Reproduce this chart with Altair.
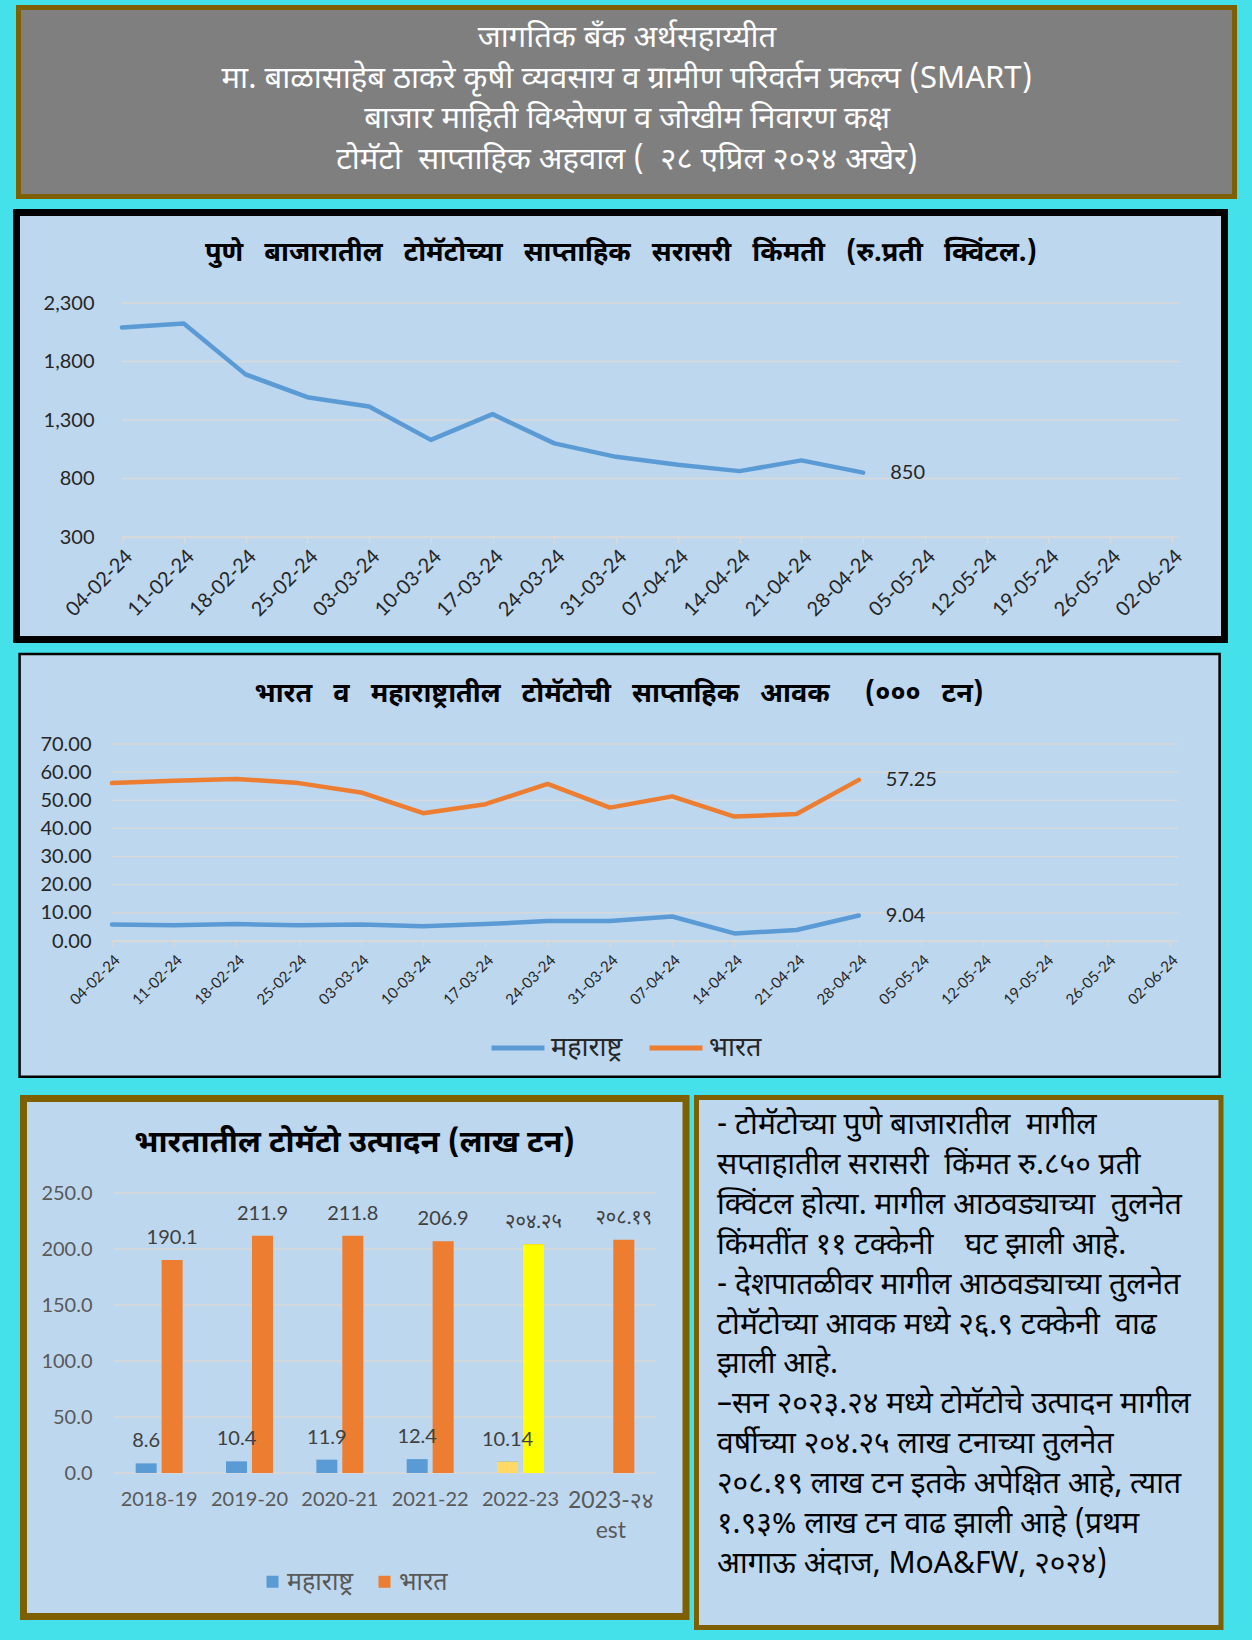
import altair as alt
import pandas as pd
import jinja2

# ---------------- colours / fonts ----------------
BG = "#45E1EB"
PANEL = "#BDD7EE"
BROWN = "#7F6000"
HEADFILL = "#7F7F7F"
BLUE = "#5B9BD5"
ORANGE = "#ED7D31"
GRID = "#D9D9D9"
DEV = "Noto Sans Devanagari, Noto Sans, sans-serif"
NUM = "Lato, Noto Sans Devanagari, sans-serif"
G = "\u00a0\u00a0 "   # wide word gap used in the chart titles

# ---------------- data ----------------
header_lines = [
    "जागतिक बँक अर्थसहाय्यीत",
    "मा. बाळासाहेब ठाकरे कृषी व्यवसाय व ग्रामीण परिवर्तन प्रकल्प (SMART)",
    "बाजार माहिती विश्लेषण व जोखीम निवारण कक्ष",
    "टोमॅटो \u00a0साप्ताहिक अहवाल ( \u00a0२८ एप्रिल २०२४ अखेर)",
]
title_price = G.join(["पुणे", "बाजारातील", "टोमॅटोच्या", "साप्ताहिक", "सरासरी", "किंमती",
                      "(रु.प्रती", "क्विंटल.)"])
title_arrivals = G.join(["भारत", "व", "महाराष्ट्रातील", "टोमॅटोची", "साप्ताहिक", "आवक",
                         "\u00a0\u00a0(०००", "टन)"])
title_prod = "भारतातील टोमॅटो उत्पादन (लाख टन)"

weeks = ["04-02-24", "11-02-24", "18-02-24", "25-02-24", "03-03-24", "10-03-24",
         "17-03-24", "24-03-24", "31-03-24", "07-04-24", "14-04-24", "21-04-24",
         "28-04-24", "05-05-24", "12-05-24", "19-05-24", "26-05-24", "02-06-24"]
pune_price = [2090, 2125, 1690, 1495, 1415, 1130, 1350, 1100, 985, 918, 863, 955, 850]
india_arrivals = [56.1, 56.9, 57.6, 56.1, 52.8, 45.4, 48.6, 55.8, 47.4, 51.4, 44.2, 45.1, 57.25]
maha_arrivals = [5.9, 5.6, 6.0, 5.6, 5.9, 5.2, 6.0, 7.1, 7.1, 8.7, 2.7, 3.9, 9.04]
series = ["महाराष्ट्र", "भारत"]

years = ["2018-19", "2019-20", "2020-21", "2021-22", "2022-23", "2023-२४ est"]
maha_prod = [8.6, 10.4, 11.9, 12.4, 10.14, None]
india_prod = [190.1, 211.9, 211.8, 206.9, 204.25, 208.19]
maha_prod_text = ["8.6", "10.4", "11.9", "12.4", "10.14", ""]
india_prod_text = ["190.1", "211.9", "211.8", "206.9", "२०४.२५", "२०८.१९"]

price_ticks = [300, 800, 1300, 1800, 2300]
arrival_ticks = [0, 10, 20, 30, 40, 50, 60, 70]
prod_ticks = [0, 50, 100, 150, 200, 250]

notes = [
    "- टोमॅटोच्या पुणे बाजारातील \u00a0मागील",
    "सप्ताहातील सरासरी \u00a0किंमत रु.८५० प्रती",
    "क्विंटल होत्या. मागील आठवड्याच्या \u00a0तुलनेत",
    "किंमतींत ११ टक्केनी \u00a0\u00a0\u00a0घट झाली आहे.",
    "- देशपातळीवर मागील आठवड्याच्या तुलनेत",
    "टोमॅटोच्या आवक मध्ये २६.९ टक्केनी \u00a0वाढ",
    "झाली आहे.",
    "–सन २०२३.२४ मध्ये टोमॅटोचे उत्पादन मागील",
    "वर्षीच्या २०४.२५ लाख टनाच्या तुलनेत",
    "२०८.१९ लाख टन इतके अपेक्षित आहे, त्यात",
    "१.९३% लाख टन वाढ झाली आहे (प्रथम",
    "आगाऊ अंदाज, MoA&FW, २०२४)",
]

one = pd.DataFrame({"k": [0]})


def box(x0, y0, x1, y1, fill, stroke=None, sw=0):
    kw = dict(fill=fill)
    if stroke:
        kw.update(stroke=stroke, strokeWidth=sw)
    return alt.Chart(one).mark_rect(**kw).encode(
        x=alt.value(x0), x2=alt.value(x1), y=alt.value(y0), y2=alt.value(y1))


def txt(x, y, text, size, weight="normal", color="#000000", align="center", font=DEV, lh=None):
    kw = dict(text=text, fontSize=size, fontWeight=weight, color=color,
              align=align, baseline="middle", font=font)
    if lh:
        kw["lineHeight"] = lh
    return alt.Chart(one).mark_text(**kw).encode(x=alt.value(x), y=alt.value(y))


# Every panel's view covers its whole band of the page (origin = band's top-left);
# the plotting region inside it is set through the scale ranges and axis offsets.

# ---------------- header (band y 0..204) ----------------
header = alt.layer(
    box(0, 0, 1252, 204, BG),
    box(18.5, 7.5, 1234.5, 196.5, HEADFILL, BROWN, 5),
    txt(627, 38, header_lines, 31, color="#FFFFFF", lh=40.7),
).properties(width=1252, height=204)

# ---------------- chart 1 : Pune price (band y 204..648) ----------------
BW1, BH1 = 1252, 444
PX1, PR1, PB1, PT1 = 122, 1180, 333, 99       # plot left/right/bottom/top inside band
df1 = pd.DataFrame({"week": weeks[:len(pune_price)], "price": pune_price})
xs1 = alt.Scale(domain=weeks, range=[PX1, 1172], padding=0)
ys1 = alt.Scale(domain=[300, 2300], range=[PB1, PT1], nice=False, zero=False)
ax1x = alt.Axis(title=None, labelAngle=-45, labelFont=NUM, labelFontSize=20, labelColor="#262626",
                domainColor=GRID, domainWidth=1.3, tickColor=GRID, tickWidth=1.3, tickSize=6,
                labelPadding=3, grid=False, zindex=1, offset=-(BH1 - PB1))
ax1y = alt.Axis(title=None, values=price_ticks, format=",.0f", labelFont=NUM, labelFontSize=20,
                labelColor="#262626", domain=False, ticks=False, labelPadding=28, grid=False,
                zindex=1, offset=-PX1)

grid1 = alt.Chart(pd.DataFrame({"v": price_ticks})).mark_rule(color=GRID, strokeWidth=1.3).encode(
    y=alt.Y("v:Q", scale=ys1, axis=ax1y), x=alt.value(PX1), x2=alt.value(PR1))
line1 = alt.Chart(df1).mark_line(color=BLUE, strokeWidth=4.5, strokeCap="round", strokeJoin="round").encode(
    x=alt.X("week:N", sort=weeks, scale=xs1, axis=ax1x),
    y=alt.Y("price:Q", scale=ys1, axis=ax1y))
lab1 = alt.Chart(df1.tail(1)).mark_text(align="left", baseline="middle", dx=27, fontSize=20,
                                        font=NUM, color="#262626").encode(
    x=alt.X("week:N", sort=weeks, scale=xs1, axis=ax1x),
    y=alt.Y("price:Q", scale=ys1, axis=ax1y),
    text=alt.Text("price:Q", format=",.0f"))

c1 = alt.layer(
    box(0, 0, BW1, BH1, BG),
    box(16.5, 8.5, 1224.5, 435.5, PANEL, "#000000", 7),
    grid1, line1, lab1,
    txt(621, 49, title_price, 27, weight="bold"),
).properties(width=BW1, height=BH1)

# ---------------- chart 2 : arrivals (band y 648..1086) ----------------
BW2, BH2 = 1252, 438
PX2, PR2, PB2, PT2 = 112, 1178, 293, 96
rows2 = []
for i, w in enumerate(weeks[:len(india_arrivals)]):
    rows2.append({"week": w, "series": series[0], "value": maha_arrivals[i]})
    rows2.append({"week": w, "series": series[1], "value": india_arrivals[i]})
df2 = pd.DataFrame(rows2)
xs2 = alt.Scale(domain=weeks, range=[PX2, 1170], padding=0)
ys2 = alt.Scale(domain=[0, 70], range=[PB2, PT2], nice=False)
cs2 = alt.Scale(domain=series, range=[BLUE, ORANGE])
ax2x = alt.Axis(title=None, labelAngle=-45, labelFont=NUM, labelFontSize=15, labelColor="#262626",
                domainColor=GRID, domainWidth=1.3, tickColor=GRID, tickWidth=1.3, tickSize=5,
                labelPadding=6, grid=False, zindex=1, offset=-(BH2 - PB2))
ax2y = alt.Axis(title=None, values=arrival_ticks, format=".2f", labelFont=NUM, labelFontSize=20,
                labelColor="#262626", domain=False, ticks=False, labelPadding=21, grid=False,
                zindex=1, offset=-PX2)
leg2 = alt.Legend(title=None, orient="none", legendX=489, legendY=371, direction="horizontal",
                  symbolType="stroke", symbolSize=2809, symbolStrokeWidth=5, labelFont=DEV,
                  labelFontSize=27, labelColor="#262626", columnPadding=16, labelOffset=4)

grid2 = alt.Chart(pd.DataFrame({"v": arrival_ticks})).mark_rule(color=GRID, strokeWidth=1.3).encode(
    y=alt.Y("v:Q", scale=ys2, axis=ax2y), x=alt.value(PX2), x2=alt.value(PR2))
line2 = alt.Chart(df2).mark_line(strokeWidth=4.5, strokeCap="round", strokeJoin="round").encode(
    x=alt.X("week:N", sort=weeks, scale=xs2, axis=ax2x),
    y=alt.Y("value:Q", scale=ys2, axis=ax2y),
    color=alt.Color("series:N", scale=cs2, legend=leg2))
lab2 = alt.Chart(df2[df2["week"] == weeks[len(india_arrivals) - 1]]).mark_text(
    align="left", baseline="middle", dx=27, fontSize=20, font=NUM, color="#262626").encode(
    x=alt.X("week:N", sort=weeks, scale=xs2, axis=ax2x),
    y=alt.Y("value:Q", scale=ys2, axis=ax2y),
    text=alt.Text("value:Q", format=".2f"))

c2 = alt.layer(
    box(0, 0, BW2, BH2, BG),
    box(19.6, 6, 1219.6, 428.7, PANEL, "#000000", 2.5),
    grid2, line2, lab2,
    txt(619, 46, title_arrivals, 27, weight="bold"),
).properties(width=BW2, height=BH2)

# ---------------- chart 3 : production (band x 0..691, y 1086..1640) ----------------
BW3, BH3 = 691, 554
PX3, PR3, PB3, PT3 = 114, 656, 387, 107
rows3 = []
for i, yv in enumerate(years):
    if maha_prod[i] is not None:
        rows3.append({"year": yv, "series": series[0], "value": maha_prod[i], "text": maha_prod_text[i]})
    rows3.append({"year": yv, "series": series[1], "value": india_prod[i], "text": india_prod_text[i]})
df3 = pd.DataFrame(rows3)
xs3 = alt.Scale(domain=years, range=[PX3, PR3], paddingInner=0.48, paddingOuter=0.24)
xo3 = alt.Scale(domain=series, paddingInner=0.19, paddingOuter=0)
ys3 = alt.Scale(domain=[0, 250], range=[PB3, PT3], nice=False)
cs3 = alt.Scale(domain=series, range=[BLUE, ORANGE])
ax3x = alt.Axis(title=None, labelAngle=0, labelFont=NUM,
                labelFontSize={"condition": {"test": "datum.value == '" + years[5] + "'", "value": 23},
                               "value": 20},
                labelColor="#595959",
                domain=False, ticks=False, labelPadding=16, labelExpr="split(datum.label, ' ')",
                labelLineHeight=30, grid=False, zindex=1, offset=-(BH3 - PB3))
ax3y = alt.Axis(title=None, values=prod_ticks, format=".1f", labelFont=NUM, labelFontSize=20,
                labelColor="#595959", domain=False, ticks=False, labelPadding=22, grid=False,
                zindex=1, offset=-PX3)
leg3 = alt.Legend(title=None, orient="none", legendX=260, legendY=483, direction="horizontal",
                  symbolType="square", symbolSize=144, symbolStrokeWidth=0, labelFont=DEV,
                  labelFontSize=25, labelColor="#595959", columnPadding=18, labelOffset=2)

xenc3 = alt.X("year:N", sort=years, scale=xs3, axis=ax3x)
xoff3 = alt.XOffset("series:N", sort=series, scale=xo3)
yenc3 = alt.Y("value:Q", scale=ys3, axis=ax3y)
grid3 = alt.Chart(pd.DataFrame({"v": prod_ticks})).mark_rule(color=GRID, strokeWidth=1.3).encode(
    y=alt.Y("v:Q", scale=ys3, axis=ax3y), x=alt.value(PX3), x2=alt.value(PR3))
bars3 = alt.Chart(df3).mark_bar().encode(
    x=xenc3, xOffset=xoff3, y=yenc3,
    color=alt.Color("series:N", scale=cs3, legend=leg3))
hl3a = alt.Chart(df3).transform_filter(
    (alt.datum.year == years[4]) & (alt.datum.series == series[0])
).mark_bar(color="#FFD966").encode(x=xenc3, xOffset=xoff3, y=yenc3)
hl3b = alt.Chart(df3).transform_filter(
    (alt.datum.year == years[4]) & (alt.datum.series == series[1])
).mark_bar(color="#FFFF00").encode(x=xenc3, xOffset=xoff3, y=yenc3)
lab3 = alt.Chart(df3).mark_text(baseline="middle", dy=-22, fontSize=20, font=NUM, color="#404040").encode(
    x=xenc3, xOffset=xoff3, y=yenc3, text="text:N")

c3 = alt.layer(
    box(0, 0, BW3, BH3, BG),
    box(23.5, 12.5, 686, 530.5, PANEL, BROWN, 7),
    grid3, bars3, hl3a, hl3b, lab3,
    txt(354.5, 57, title_prod, 31, weight="bold"),
).properties(width=BW3, height=BH3)

# ---------------- text panel (band x 691..1252, y 1086..1640) ----------------
tp = alt.layer(
    box(0, 0, 561, 554, BG),
    box(5.5, 11.5, 530, 541.5, PANEL, BROWN, 5),
    txt(26, 39, notes, 30, align="left", lh=39.9),
).properties(width=561, height=554)

bottom = alt.hconcat(c3, tp, spacing=0).resolve_scale(color="independent")
chart = alt.vconcat(
    header, c1, c2, bottom, spacing=0
).resolve_scale(color="independent").properties(background=BG, padding=0).configure_view(strokeWidth=0)

TEMPLATE = jinja2.Template("""<!DOCTYPE html>
<html>
<head>
<meta charset="utf-8">
<style>
html, body { margin: 0; padding: 0; background: #45E1EB; }
</style>
<script type="text/javascript">
window.onerror = function(msg) { var p = document.createElement('pre'); p.style.fontSize='18px'; p.textContent = 'ERR: ' + msg; document.body.appendChild(p); };
</script>
<script type="text/javascript" src="{{ base_url }}/vega@{{ vega_version }}"></script>
<script type="text/javascript" src="{{ base_url }}/vega-lite@{{ vegalite_version }}"></script>
<script type="text/javascript" src="{{ base_url }}/vega-embed@{{ vegaembed_version }}"></script>
</head>
<body>
<div id="{{ output_div }}"></div>
<script type="text/javascript">
vegaEmbed("#{{ output_div }}", {{ spec }}, {{ embed_options }}).catch(function(e) {
  var p = document.createElement('pre'); p.style.fontSize='18px'; p.textContent = 'EMBED ERR: ' + e; document.body.appendChild(p);
});
</script>
</body>
</html>""")

chart.save("out.html", embed_options={"renderer": "svg", "actions": False}, template=TEMPLATE)
